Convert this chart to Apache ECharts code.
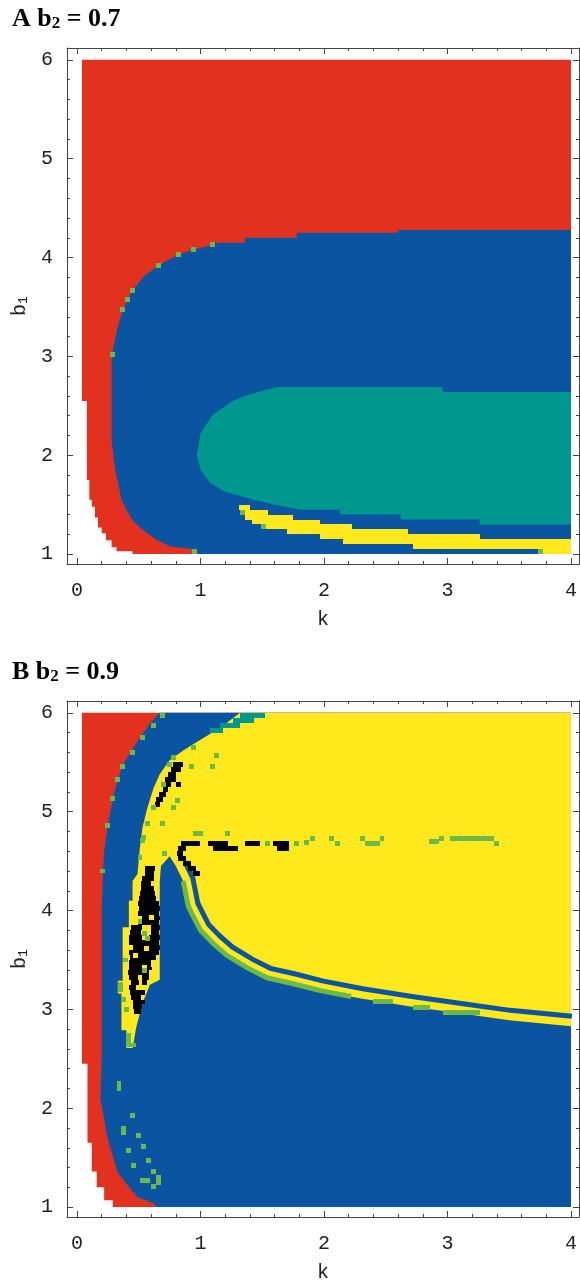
<!DOCTYPE html>
<html><head><meta charset="utf-8">
<script src="https://cdn.jsdelivr.net/npm/echarts@6/dist/echarts.min.js"></script>
<style>html,body{margin:0;padding:0;background:#fff}#c{width:580px;height:1284px}</style>
</head><body><div id="c"></div>
<script>
// ---------------- data (k, b1 values) ----------------
const kTicks = [0, 1, 2, 3, 4];
const kMinorTicks = [0.2,0.4,0.6,0.8,1.2,1.4,1.6,1.8,2.2,2.4,2.6,2.8,3.2,3.4,3.6,3.8];
const b1Ticks = [1, 2, 3, 4, 5, 6];
const b1MinorTicks = [1.2,1.4,1.6,1.8,2.2,2.4,2.6,2.8,3.2,3.4,3.6,3.8,4.2,4.4,4.6,4.8,5.2,5.4,5.6,5.8];
const panelTitles = [{p:'A', b2:'0.7'}, {p:'B', b2:'0.9'}];

// Panel A (b2 = 0.7)
// left edge of the coloured area: [b1 where step starts (top), k]
const A_redLeft = [[6.00,0.04],[2.55,0.08],[1.75,0.10],[1.55,0.12],[1.48,0.145],[1.37,0.17],[1.27,0.20],[1.21,0.235],[1.14,0.28],[1.07,0.32],[1.03,0.45]];
// red / blue boundary [k, b1]
const A_blueEdge = [[0.97,1.00],[0.94,1.05],[0.75,1.08],[0.65,1.14],[0.57,1.21],[0.51,1.27],[0.45,1.34],[0.40,1.45],[0.36,1.55],[0.31,1.85],[0.28,2.15],[0.28,3.00],[0.33,3.30],[0.37,3.47],[0.41,3.58],[0.45,3.67],[0.55,3.82],[0.66,3.92],[0.82,4.03],[0.94,4.08],[1.10,4.13],[1.10,4.15],[1.36,4.15],[1.36,4.20],[1.78,4.20],[1.78,4.25],[2.60,4.25],[2.60,4.28],[4.00,4.28]];
// teal region outline [k, b1]
const A_teal = [[1.62,2.69],[2.96,2.69],[2.96,2.64],[4.00,2.64],[4.00,1.30],[3.26,1.30],[3.26,1.35],[2.62,1.35],[2.62,1.40],[2.13,1.40],[2.13,1.45],[1.81,1.45],[1.60,1.50],[1.40,1.56],[1.20,1.63],[1.08,1.72],[1.00,1.85],[0.97,2.00],[1.00,2.22],[1.05,2.32],[1.10,2.41],[1.18,2.48],[1.26,2.55],[1.38,2.61]];
// yellow band rows [b1 (row bottom), k from, k to]
const A_yellowRows = [[1.45,1.31,1.40],[1.40,1.33,1.55],[1.35,1.36,1.75],[1.30,1.42,1.97],[1.25,1.50,2.23],[1.20,1.70,2.68],[1.15,1.97,3.26],[1.10,2.15,4.00],[1.05,2.72,4.00],[1.00,3.77,4.00]];
// green cells [k, b1]
const A_green = [[0.29,3.02],[0.37,3.47],[0.41,3.58],[0.45,3.67],[0.66,3.92],[0.82,4.03],[0.94,4.08],[1.10,4.13],[0.955,1.025],[1.34,1.42],[1.51,1.28],[3.75,1.025]];

// Panel B (b2 = 0.9)
const B_redLeft = [[6.00,0.04],[2.45,0.085],[1.65,0.12],[1.36,0.16],[1.20,0.22],[1.07,0.29]];
const B_blueEdge = [[0.67,6.00],[0.59,5.89],[0.51,5.75],[0.43,5.60],[0.37,5.47],[0.33,5.33],[0.29,5.13],[0.25,4.86],[0.22,4.60],[0.21,4.40],[0.20,4.00],[0.20,2.55],[0.19,2.10],[0.24,1.74],[0.27,1.60],[0.33,1.35],[0.38,1.27],[0.43,1.19],[0.49,1.10],[0.58,1.06],[0.64,1.02],[0.64,1.00]];
// lower edge of the large yellow region (centre of the green line), left to right
const B_lineC = [[0.75,4.55],[0.80,4.45],[0.86,4.30],[0.90,4.05],[0.93,3.97],[1.00,3.80],[1.10,3.67],[1.21,3.55],[1.38,3.42],[1.54,3.32],[1.75,3.26],[1.97,3.19],[2.30,3.11],[2.70,3.03],[3.10,2.96],[3.50,2.89],[4.00,2.83]];
// continuous part of the green line (same curve), then green dashes [k0, k1, b1 low, b1 high]
const B_greenLine = [[0.86,4.30],[0.90,4.05],[0.93,3.97],[1.00,3.80],[1.10,3.67],[1.21,3.55],[1.38,3.42],[1.54,3.32],[1.75,3.26],[1.97,3.19],[2.22,3.13]];
const B_greenDashes = [[2.40,2.56,3.055,3.105],[2.72,2.86,2.995,3.045],[2.96,3.26,2.945,2.995]];
// blue spike left side (top to bottom)
const B_spikeLeft = [[0.75,4.55],[0.68,4.45],[0.67,4.30],[0.67,3.30],[0.59,3.25],[0.53,3.06],[0.48,2.82],[0.45,2.61]];
// left side of the yellow tongue and outer edge of the blue band (bottom to top)
const B_bandEdge = [[0.40,2.61],[0.40,2.79],[0.36,2.79],[0.36,3.16],[0.33,3.16],[0.33,3.29],[0.37,3.29],[0.37,3.83],[0.42,3.83],[0.42,4.10],[0.45,4.10],[0.45,4.30],[0.49,4.37],[0.51,4.64],[0.53,4.84],[0.57,5.04],[0.62,5.24],[0.67,5.38],[0.75,5.52],[0.86,5.62],[0.99,5.72],[1.16,5.85],[1.32,6.00]];
const B_yellowTopLeft = [1.52, 6.00];
// teal cells as boxes [k0, k1, b1 low, b1 high]
const B_tealBoxes = [[1.32,1.52,5.95,6.00],[1.26,1.43,5.90,5.95],[1.16,1.32,5.85,5.90],[1.08,1.18,5.80,5.85]];
// black boxes [k0, k1, b1 low, b1 high]
const B_blackBoxes = [
  [0.78,0.86,5.45,5.50],[0.76,0.84,5.40,5.45],[0.74,0.80,5.35,5.40],[0.71,0.80,5.30,5.35],[0.70,0.76,5.25,5.30],[0.80,0.84,5.25,5.30],
  [0.70,0.74,5.20,5.25],[0.66,0.72,5.15,5.20],[0.64,0.70,5.10,5.15],[0.63,0.67,5.05,5.10],
  [0.84,1.00,4.65,4.70],[1.06,1.22,4.65,4.70],[1.36,1.48,4.65,4.70],[1.59,1.72,4.65,4.70],[0.82,0.88,4.60,4.65],[1.10,1.30,4.60,4.65],[1.62,1.72,4.60,4.65],
  [0.81,0.86,4.55,4.60],[0.82,0.88,4.50,4.55],[0.86,0.92,4.45,4.50],[0.90,0.96,4.40,4.45],[0.94,1.00,4.35,4.40]
];
// black rows inside the yellow tongue [b1 (row bottom), k from, k to]
const B_blackRows = [
  [4.40,0.55,0.63],[4.35,0.55,0.62],[4.30,0.53,0.62],[4.25,0.51,0.60],[4.20,0.52,0.62],[4.15,0.51,0.63],[4.10,0.50,0.64],
  [4.05,0.49,0.66],[4.00,0.50,0.67],[3.95,0.49,0.66],[3.90,0.53,0.67],[3.85,0.49,0.66],
  [3.80,0.44,0.53],[3.80,0.60,0.67],[3.75,0.43,0.52],[3.75,0.60,0.66],[3.70,0.42,0.53],[3.70,0.58,0.67],
  [3.65,0.42,0.66],[3.60,0.45,0.67],[3.55,0.42,0.66],[3.50,0.43,0.64],[3.45,0.42,0.60],
  [3.40,0.42,0.53],[3.40,0.57,0.61],[3.35,0.41,0.58],[3.30,0.42,0.49],[3.30,0.53,0.58],[3.25,0.44,0.50],[3.25,0.53,0.57],
  [3.20,0.42,0.48],[3.15,0.43,0.55],[3.10,0.44,0.52],[3.05,0.45,0.55],[3.00,0.45,0.53],[2.95,0.46,0.52]
];
const B_yellowCells = [[0.62,3.45],[0.47,3.55],[0.60,3.93],[0.64,4.22],[0.50,4.27],[0.56,3.62]];
const B_green = [
  [0.69,5.975],[0.62,5.87],[0.53,5.75],[0.45,5.60],[0.37,5.46],[0.33,5.33],[0.29,5.13],[0.25,4.86],[0.21,4.40],
  [0.94,5.65],[0.78,5.55],[0.75,5.48],[0.70,5.28],[0.62,5.04],[0.57,4.88],[0.53,4.71],[0.51,4.54],
  [1.13,5.57],[1.10,5.46],[0.93,5.46],[0.81,5.11],[0.78,5.04],[0.69,4.88],[0.54,4.74],[0.71,4.58],
  [0.96,4.78],[1.00,4.78],[1.22,4.78],[1.54,4.68],[1.78,4.68],[1.86,4.69],[1.91,4.73],
  [2.06,4.73],[2.11,4.68],[2.31,4.73],[2.35,4.68],[2.39,4.68],[2.43,4.68],[2.47,4.73],[2.87,4.70],[2.91,4.70],[2.95,4.73],
  [3.04,4.73],[3.08,4.73],[3.12,4.73],[3.16,4.73],[3.20,4.73],[3.24,4.73],[3.28,4.73],[3.32,4.73],[3.36,4.73],[3.40,4.68],
  [0.51,3.89],[0.55,3.77],[0.57,3.72],[0.55,3.39],[0.35,3.20],[0.35,3.25],[0.38,3.10],[0.42,2.64],[0.46,2.64],[0.42,2.69],[0.42,2.74],[0.39,3.50],[0.40,3.00],
  [0.34,2.25],[0.34,2.20],[0.45,1.93],[0.38,1.80],[0.38,1.75],[0.50,1.72],[0.54,1.61],[0.42,1.57],[0.58,1.47],[0.46,1.42],[0.62,1.36],[0.53,1.27],[0.57,1.27],[0.66,1.30],[0.66,1.25],[0.62,1.21]
];

// ---------------- styling / layout ----------------
const COL = {red:'#E3311F', blue:'#0B54A1', teal:'#00978F', yellow:'#FFE81C', green:'#6CB94B', black:'#000000'};
const CELL_K = 0.04, CELL_B = 0.05;
const K_MIN = -0.081, K_MAX = 4.065, B_MIN = 0.9, B_MAX = 6.12;
const K_RIGHT = 4.0, B_BOTTOM = 1.0, B_TOP = 6.0;
const MONO = 'Liberation Mono, DejaVu Sans Mono, monospace';
const SERIF = 'Liberation Serif, DejaVu Serif, serif';
const grids = [
  {left:67, top:48, width:512, height:516},
  {left:67, top:701, width:512, height:516}
];

function stairPolygon(steps) {
  const pts = [];
  for (let i = 0; i < steps.length; i++) {
    const top = steps[i][0];
    const bot = i + 1 < steps.length ? steps[i + 1][0] : B_BOTTOM;
    pts.push([steps[i][1], top], [steps[i][1], bot]);
  }
  pts.push([K_RIGHT, B_BOTTOM], [K_RIGHT, B_TOP]);
  return pts;
}

function axesFor(gi) {
  const lineStyle = {color:'#444', width:1};
  const base = {gridIndex:gi, type:'value', splitLine:{show:false}};
  const xs = [
    Object.assign({}, base, {min:K_MIN, max:K_MAX, position:'bottom',
      axisLine:{show:true, onZero:false, lineStyle},
      axisTick:{show:true, inside:true, length:6, customValues:kTicks, lineStyle},
      axisLabel:{show:true, customValues:kTicks, margin:17, fontFamily:MONO, fontSize:20, color:'#222'},
      name:'k', nameLocation:'middle', nameGap:46, nameTextStyle:{fontFamily:MONO, fontSize:20, color:'#222'}}),
    Object.assign({}, base, {min:K_MIN, max:K_MAX, position:'bottom',
      axisLine:{show:false, onZero:false}, axisTick:{show:true, inside:true, length:3, customValues:kMinorTicks, lineStyle},
      axisLabel:{show:false}}),
    Object.assign({}, base, {min:K_MIN, max:K_MAX, position:'top',
      axisLine:{show:true, onZero:false, lineStyle}, axisTick:{show:true, inside:true, length:6, customValues:kTicks, lineStyle},
      axisLabel:{show:false}}),
    Object.assign({}, base, {min:K_MIN, max:K_MAX, position:'top',
      axisLine:{show:false, onZero:false}, axisTick:{show:true, inside:true, length:3, customValues:kMinorTicks, lineStyle},
      axisLabel:{show:false}})
  ];
  const ys = [
    Object.assign({}, base, {min:B_MIN, max:B_MAX, position:'left',
      axisLine:{show:true, onZero:false, lineStyle},
      axisTick:{show:true, inside:true, length:6, customValues:b1Ticks, lineStyle},
      axisLabel:{show:true, customValues:b1Ticks, margin:14, fontFamily:MONO, fontSize:20, color:'#222'},
      name:'{b|b}{s|1}', nameLocation:'middle', nameGap:33, nameRotate:90,
      nameTextStyle:{rich:{b:{fontFamily:MONO, fontSize:20, color:'#222', lineHeight:24, verticalAlign:'bottom'},
                           s:{fontFamily:MONO, fontSize:13, color:'#222', lineHeight:16, verticalAlign:'bottom'}}}}),
    Object.assign({}, base, {min:B_MIN, max:B_MAX, position:'left',
      axisLine:{show:false, onZero:false}, axisTick:{show:true, inside:true, length:3, customValues:b1MinorTicks, lineStyle},
      axisLabel:{show:false}}),
    Object.assign({}, base, {min:B_MIN, max:B_MAX, position:'right',
      axisLine:{show:true, onZero:false, lineStyle}, axisTick:{show:true, inside:true, length:6, customValues:b1Ticks, lineStyle},
      axisLabel:{show:false}}),
    Object.assign({}, base, {min:B_MIN, max:B_MAX, position:'right',
      axisLine:{show:false, onZero:false}, axisTick:{show:true, inside:true, length:3, customValues:b1MinorTicks, lineStyle},
      axisLabel:{show:false}})
  ];
  return {xs, ys};
}

function common(gi, z) {
  return {type:'custom', coordinateSystem:'cartesian2d', xAxisIndex:gi*4, yAxisIndex:gi*4, z, silent:true, animation:false, clip:true};
}
function pxRect(a, b, color) {
  const x0 = Math.round(Math.min(a[0], b[0])), x1 = Math.round(Math.max(a[0], b[0]));
  const y0 = Math.round(Math.min(a[1], b[1])), y1 = Math.round(Math.max(a[1], b[1]));
  return {type:'rect', shape:{x:x0, y:y0, width:x1-x0, height:y1-y0}, style:{fill:color}};
}
function polygonSeries(gi, pts, color, z) {
  return Object.assign(common(gi, z), {
    data:[pts[0]],
    renderItem:(p, api) => ({type:'polygon', shape:{points:pts.map(q => api.coord(q))}, style:{fill:color}})
  });
}
function cellSeries(gi, cells, color, z) {
  return Object.assign(common(gi, z), {
    data:cells,
    renderItem:(p, api) => {
      const k = api.value(0), b = api.value(1);
      return pxRect(api.coord([k - CELL_K/2, b + CELL_B/2]), api.coord([k + CELL_K/2, b - CELL_B/2]), color);
    }
  });
}
function boxSeries(gi, boxes, color, z) {
  return Object.assign(common(gi, z), {
    data:boxes, encode:{x:[0,1], y:[2,3]},
    renderItem:(p, api) => pxRect(api.coord([api.value(0), api.value(3)]), api.coord([api.value(1), api.value(2)]), color)
  });
}
function rowSeries(gi, rows, color, z) {
  return Object.assign(common(gi, z), {
    data:rows, encode:{x:[1,2], y:[0]},
    renderItem:(p, api) => pxRect(api.coord([api.value(1), api.value(0) + CELL_B]), api.coord([api.value(2), api.value(0)]), color)
  });
}
function lineSeries(gi, pts, color, width, offsetPx, z) {
  return Object.assign(common(gi, z), {
    data:[pts[0]],
    renderItem:(p, api) => {
      const px = pts.map(q => api.coord(q));
      const out = px.map((q, i) => {
        const a = px[Math.max(0, i-1)], b = px[Math.min(px.length-1, i+1)];
        const tx = b[0]-a[0], ty = b[1]-a[1], L = Math.hypot(tx, ty) || 1;
        return [q[0] + offsetPx*ty/L, q[1] - offsetPx*tx/L];
      });
      return {type:'polyline', shape:{points:out}, style:{stroke:color, lineWidth:width, fill:null, lineJoin:'miter'}};
    }
  });
}

// ---- build series ----
const series = [];
// Panel A
series.push(polygonSeries(0, stairPolygon(A_redLeft), COL.red, 1));
series.push(polygonSeries(0, A_blueEdge.concat([[K_RIGHT, B_BOTTOM]]), COL.blue, 2));
series.push(polygonSeries(0, A_teal, COL.teal, 3));
series.push(rowSeries(0, A_yellowRows, COL.yellow, 4));
series.push(cellSeries(0, A_green, COL.green, 5));
// Panel B
series.push(polygonSeries(1, stairPolygon(B_redLeft), COL.red, 1));
series.push(polygonSeries(1, B_blueEdge.concat([[K_RIGHT, B_BOTTOM],[K_RIGHT, B_TOP]]), COL.blue, 2));
const B_yellowPoly = [B_yellowTopLeft, [K_RIGHT, B_TOP]]
  .concat(B_lineC.slice().reverse())
  .concat(B_spikeLeft.slice(1))
  .concat(B_bandEdge);
series.push(polygonSeries(1, B_yellowPoly, COL.yellow, 3));
series.push(lineSeries(1, B_lineC.slice(1), COL.blue, 5, 10, 4));
series.push(lineSeries(1, B_greenLine, COL.green, 5, 0, 5));
series.push(boxSeries(1, B_greenDashes, COL.green, 5));
series.push(boxSeries(1, B_tealBoxes, COL.teal, 6));
series.push(boxSeries(1, B_blackBoxes, COL.black, 7));
series.push(rowSeries(1, B_blackRows, COL.black, 7));
series.push(cellSeries(1, B_yellowCells, COL.yellow, 8));
series.push(cellSeries(1, B_green, COL.green, 9));

const axA = axesFor(0), axB = axesFor(1);

const titleRich = {
  t:{fontFamily:SERIF, fontWeight:'bold', fontSize:26, lineHeight:30, color:'#111', verticalAlign:'bottom'},
  s:{fontFamily:SERIF, fontWeight:'bold', fontSize:17, lineHeight:19, color:'#111', verticalAlign:'bottom'}
};
const titleTops = [6, 659];
const graphic = panelTitles.map((t, i) => ({
  type:'text', left:12, top:titleTops[i], silent:true,
  style:{text:'{t|' + t.p + ' b}{s|2}{t| = ' + t.b2 + '}', rich:titleRich}
}));

const chart = echarts.init(document.getElementById('c'), null, {renderer:'canvas'});
chart.setOption({
  backgroundColor:'#ffffff',
  animation:false,
  grid:grids.map(g => Object.assign({containLabel:false}, g)),
  xAxis:axA.xs.concat(axB.xs),
  yAxis:axA.ys.concat(axB.ys),
  graphic,
  series
});
</script></body></html>
